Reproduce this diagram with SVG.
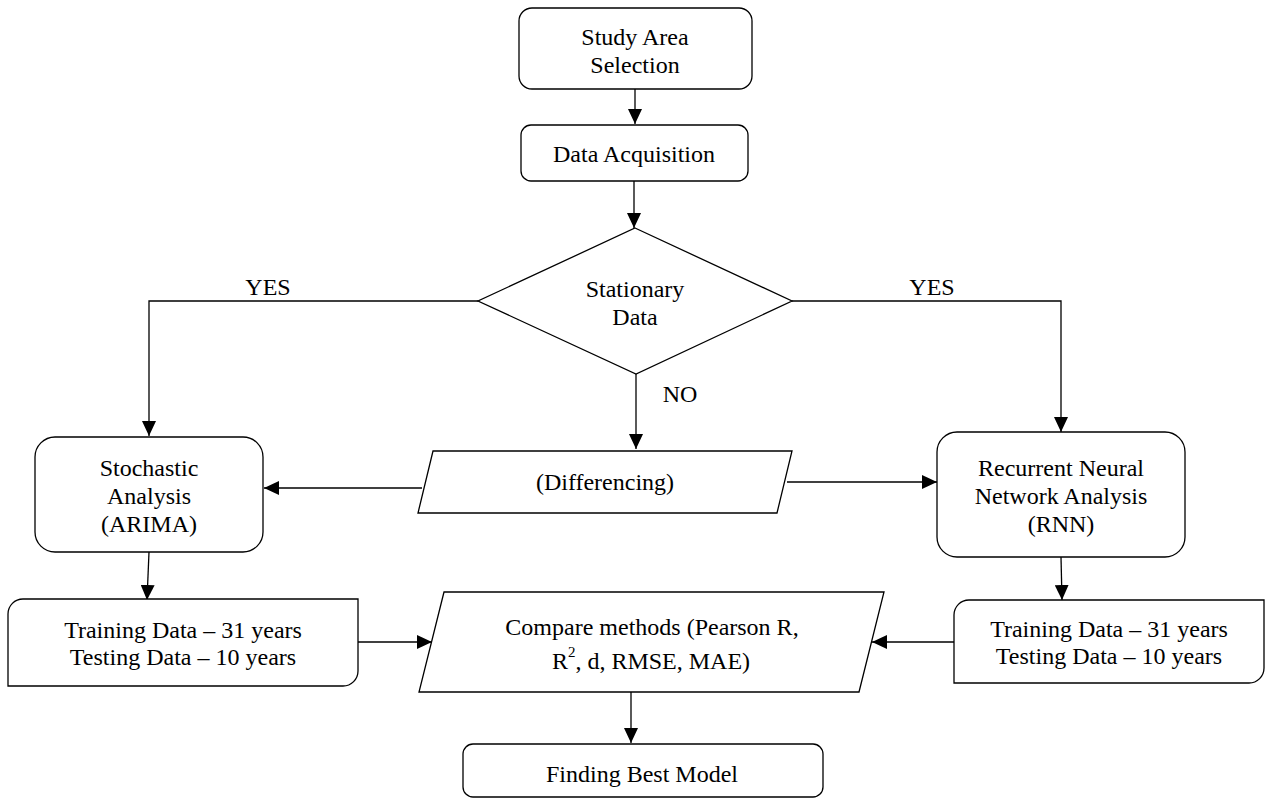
<svg xmlns="http://www.w3.org/2000/svg" width="1265" height="799" viewBox="0 0 1265 799">
<style>
.s{fill:#fff;stroke:#000;stroke-width:1.3}
.c{fill:none;stroke:#000;stroke-width:1.3}
text{font-family:"Liberation Serif","Times New Roman",serif;font-size:24px;fill:#000;text-anchor:middle}
</style>
<defs>
<marker id="ah" markerUnits="userSpaceOnUse" markerWidth="15" markerHeight="14" refX="15" refY="7" orient="auto">
<path d="M0,0 L15,7 L0,14 Z" fill="#000"/>
</marker>
</defs>
<rect width="1265" height="799" fill="#fff"/>
<g id="connectors">
<line class="c" x1="635" y1="89" x2="635" y2="124" marker-end="url(#ah)"/>
<line class="c" x1="634" y1="181" x2="634" y2="228" marker-end="url(#ah)"/>
<polyline class="c" points="478,301 149,301 149,436" marker-end="url(#ah)"/>
<polyline class="c" points="792,301 1061,301 1061,432" marker-end="url(#ah)"/>
<line class="c" x1="636" y1="374" x2="636" y2="449" marker-end="url(#ah)"/>
<line class="c" x1="422" y1="488" x2="264" y2="488" marker-end="url(#ah)"/>
<line class="c" x1="787" y1="482" x2="937" y2="482" marker-end="url(#ah)"/>
<line class="c" x1="149" y1="552" x2="147" y2="600" marker-end="url(#ah)"/>
<line class="c" x1="1061" y1="557" x2="1062" y2="600" marker-end="url(#ah)"/>
<line class="c" x1="358" y1="642" x2="432" y2="642" marker-end="url(#ah)"/>
<line class="c" x1="954" y1="642" x2="872" y2="642" marker-end="url(#ah)"/>
<line class="c" x1="631" y1="692" x2="631" y2="743" marker-end="url(#ah)"/>
<text x="268" y="295">YES</text>
<text x="932" y="295">YES</text>
<text x="680" y="402">NO</text>
</g>
<g id="study">
<rect class="s" x="519" y="8" width="233" height="81" rx="13"/>
<text x="635" y="45">Study Area</text>
<text x="635" y="73">Selection</text>
</g>
<g id="acquisition">
<rect class="s" x="521" y="125" width="227" height="56" rx="10"/>
<text x="634" y="162">Data Acquisition</text>
</g>
<g id="stationary">
<polygon class="s" points="635,228 792,301 636,374 478,301"/>
<text x="635" y="297">Stationary</text>
<text x="635" y="325">Data</text>
</g>
<g id="differencing">
<polygon class="s" points="433,451 792,451 777,513 418,513"/>
<text x="605" y="490">(Differencing)</text>
</g>
<g id="stochastic">
<rect class="s" x="35" y="437" width="228" height="115" rx="20"/>
<text x="149" y="476">Stochastic</text>
<text x="149" y="504">Analysis</text>
<text x="149" y="532">(ARIMA)</text>
</g>
<g id="rnn">
<rect class="s" x="937" y="432" width="248" height="125" rx="20"/>
<text x="1061" y="476">Recurrent Neural</text>
<text x="1061" y="504">Network Analysis</text>
<text x="1061" y="532">(RNN)</text>
</g>
<g id="training-left">
<path class="s" d="M23,599 H358 V671 A15,15 0 0 1 343,686 H8 V614 A15,15 0 0 1 23,599 Z"/>
<text x="183" y="638">Training Data – 31 years</text>
<text x="183" y="665">Testing Data – 10 years</text>
</g>
<g id="training-right">
<path class="s" d="M969,600 H1264 V668 A15,15 0 0 1 1249,683 H954 V615 A15,15 0 0 1 969,600 Z"/>
<text x="1109" y="637">Training Data – 31 years</text>
<text x="1109" y="664">Testing Data – 10 years</text>
</g>
<g id="compare">
<polygon class="s" points="444,592 884,592 859,692 419,692"/>
<text x="652" y="635">Compare methods (Pearson R,</text>
<text x="651" y="669">R<tspan font-size="15" dy="-12">2</tspan><tspan dy="12">, d, RMSE, MAE)</tspan></text>
</g>
<g id="best">
<rect class="s" x="463" y="744" width="360" height="53" rx="10"/>
<text x="642" y="782">Finding Best Model</text>
</g>
</svg>
